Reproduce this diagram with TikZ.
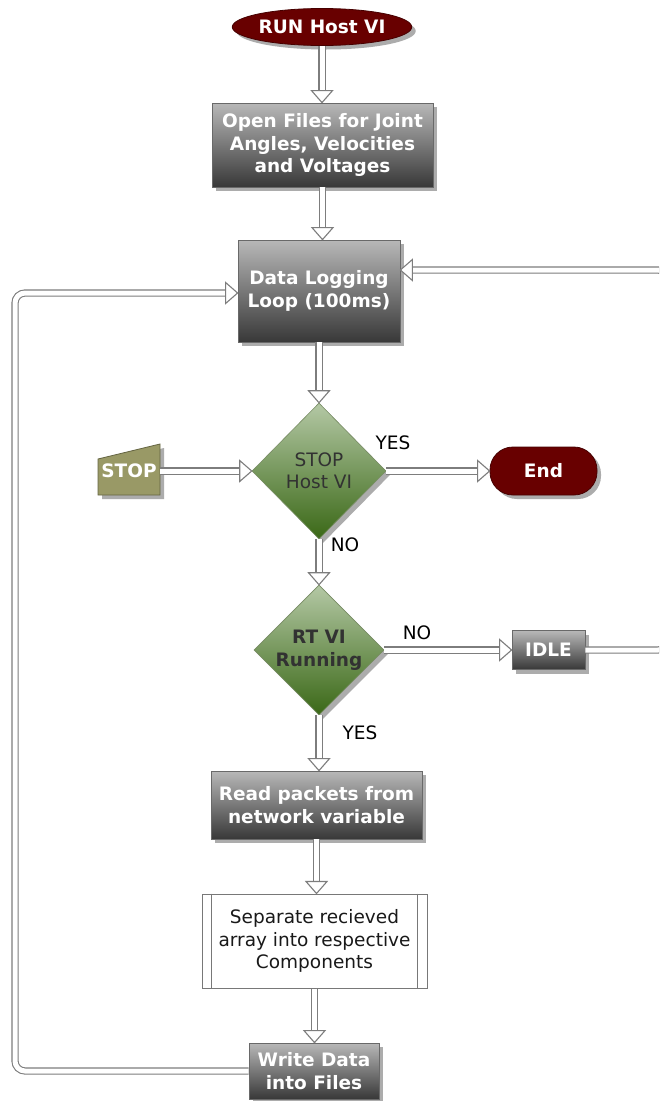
\documentclass[tikz,border=0pt]{standalone}
\usepackage{fontspec}
\setmainfont{DejaVu Sans}
\usetikzlibrary{shapes.geometric,shadows,decorations.markings,calc}

\definecolor{linegray}{RGB}{125,125,125}
\definecolor{boxtop}{RGB}{184,184,184}
\definecolor{boxbot}{RGB}{56,56,56}
\definecolor{boxedge}{RGB}{105,105,105}
\definecolor{shadowgray}{RGB}{172,172,172}
\definecolor{greentop}{RGB}{180,200,165}
\definecolor{greenbot}{RGB}{58,104,22}
\definecolor{greenedge}{RGB}{120,140,100}
\definecolor{decisiontext}{RGB}{50,50,50}
\definecolor{termred}{RGB}{104,0,0}
\definecolor{termedge}{RGB}{70,0,0}
\definecolor{stopolive}{RGB}{153,153,102}
\definecolor{stopedge}{RGB}{100,100,66}
\definecolor{sepedge}{RGB}{120,120,120}

\tikzset{
  basefont/.style={font=\fontsize{18.5}{22.5}\selectfont},
  boldfont/.style={font=\fontsize{18.5}{22.5}\selectfont\bfseries},
  shadowed/.style={drop shadow={shadow xshift=4pt, shadow yshift=-4pt, fill=shadowgray, opacity=1}},
  graybox/.style={rectangle, draw=boxedge, line width=0.8pt, top color=boxtop, bottom color=boxbot,
    text=white, boldfont, align=center, inner sep=0pt, shadowed},
  decision/.style={diamond, draw=greenedge, line width=0.6pt, top color=greentop, bottom color=greenbot,
    text=decisiontext, align=center, inner sep=0pt, shadowed, basefont},
  terminal/.style={fill=termred, draw=termedge, line width=0.8pt, text=white,
    boldfont, inner sep=0pt, shadowed},
  process/.style={rectangle, draw=sepedge, line width=1pt, fill=white, text=black!90,
    align=center, inner sep=0pt, basefont},
  flow/.style={draw=linegray, line width=1.1pt, double=white, double distance=5pt, shorten >=8pt,
    postaction={decorate},
    decoration={markings, mark=at position 1 with {
      \draw[draw=linegray, fill=white, line width=1.1pt, line join=miter, sharp corners, shorten >=0pt]
        (0pt,0pt) -- (-12pt,10.5pt) -- (-12pt,-10.5pt) -- cycle;}}},
  ynlabel/.style={text=black, inner sep=0pt, basefont}
}

\begin{document}
\begin{tikzpicture}[x=1pt, y=-1pt]
  \useasboundingbox (0,0) rectangle (659,1101);
  \fill[white] (0,0) rectangle (659,1101);

  % start terminal and set-up
  \node[terminal, ellipse, minimum width=175pt, minimum height=37pt] (RUN) at (322,27) {RUN Host VI};
  \node[graybox, minimum width=221pt, minimum height=84pt] (OPEN) at (322.5,145)
    {Open Files for Joint\\Angles, Velocities\\and Voltages};
  \node[graybox, minimum width=162pt, minimum height=102pt] (DL) at (319,291)
    {Data Logging\\Loop (100ms)};

  % stop decision
  \node[decision, minimum width=134pt, minimum height=136pt] (STOPD) at (319,471) {STOP\\Host VI};
  \fill[shadowgray] (102,463) -- (164,448) -- (164,499) -- (102,499) -- cycle;
  \draw[fill=stopolive, draw=stopedge, line width=0.8pt] (98,459) -- (160,444) -- (160,495) -- (98,495) -- cycle;
  \node[text=white, boldfont, minimum width=62pt, minimum height=36pt,
    inner sep=0pt] (STOPIN) at (129,471) {STOP};
  \node[terminal, rectangle, rounded corners=23pt, minimum width=107pt, minimum height=48pt] (END) at (543.5,471) {End};

  % RT VI decision
  \node[decision, boldfont, minimum width=130pt, minimum height=130pt]
    (RTVI) at (319,650) {RT VI\\Running};
  \node[graybox, minimum width=73pt, minimum height=39pt] (IDLE) at (548.5,650) {IDLE};

  % data handling
  \node[graybox, minimum width=211pt, minimum height=68pt] (READ) at (316.5,805)
    {Read packets from\\network variable};
  \node[process, minimum width=225pt, minimum height=94pt] (SEP) at (314.5,941)
    {Separate recieved\\array into respective\\Components};
  \draw[draw=sepedge, line width=1pt] ([xshift=10pt]SEP.north west) -- ([xshift=10pt]SEP.south west);
  \draw[draw=sepedge, line width=1pt] ([xshift=-10pt]SEP.north east) -- ([xshift=-10pt]SEP.south east);
  \node[graybox, minimum width=130pt, minimum height=56pt] (WD) at (314,1071)
    {Write Data\\into Files};

  % routing points of the loop-back connectors
  \coordinate (leftx) at (15,0);
  \coordinate (rightx) at (668,0);
  \coordinate (dlL) at ([yshift=-2pt]DL.west);
  \coordinate (dlR) at ([yshift=21pt]DL.east);

  % connectors
  \draw[flow] (RUN.south) -- (RUN.south |- OPEN.north);
  \draw[flow] (OPEN.south) -- (OPEN.south |- DL.north);
  \draw[flow] (STOPD.north |- DL.south) -- (STOPD.north);
  \draw[flow] (STOPIN.east) -- (STOPD.west);
  \draw[flow] (STOPD.east) -- (END.west);
  \draw[flow] (STOPD.south) -- (RTVI.north);
  \draw[flow] (RTVI.east) -- (IDLE.west);
  \draw[flow] (RTVI.south) -- (RTVI.south |- READ.north);
  \draw[flow] (READ.south) -- (READ.south |- SEP.north);
  \draw[flow] (SEP.south) -- (SEP.south |- WD.north);
  \draw[flow, rounded corners=10pt] (WD.west) -- (WD.west -| leftx) |- (dlL);
  \begin{scope}
    \clip (0,0) rectangle (659,1101);
    \draw[flow, rounded corners=10pt] (IDLE.east) -- (IDLE.east -| rightx) |- (dlR);
  \end{scope}

  % branch labels
  \node[ynlabel] (yes1) at (393,443) {YES};
  \node[ynlabel] (no1) at (345,545) {NO};
  \node[ynlabel] (no2) at (417,633) {NO};
  \node[ynlabel] (yes2) at (360,733) {YES};
\end{tikzpicture}
\end{document}
